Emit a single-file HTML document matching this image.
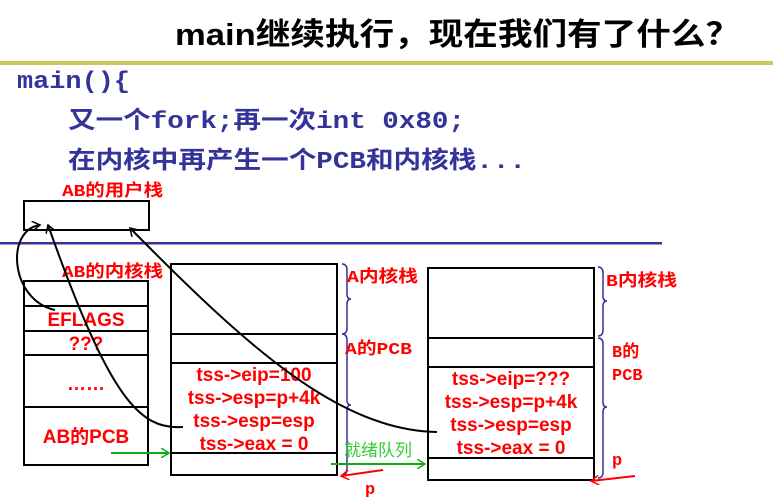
<!DOCTYPE html>
<html><head><meta charset="utf-8"><style>
body{margin:0;width:773px;height:497px;overflow:hidden;background:#fff}
svg{display:block}
.r{fill:#f00;font-family:"Liberation Sans","Noto Sans CJK SC",sans-serif;font-weight:bold;font-size:19px}
.m{fill:#f00;font-family:"Liberation Mono","Noto Sans CJK SC",monospace;font-weight:bold;font-size:17px}
.c{fill:#333399;font-family:"Liberation Mono","Noto Sans CJK SC",monospace;font-weight:bold;font-size:24px}
</style></head><body>
<svg width="773" height="497" viewBox="0 0 773 497" xmlns="http://www.w3.org/2000/svg">
<defs>
<marker id="ak" markerWidth="10" markerHeight="10" refX="8" refY="5" orient="auto" markerUnits="userSpaceOnUse"><path d="M0,0 L8,5 L0,10" fill="none" stroke="#000" stroke-width="1.5"/></marker>
<marker id="ag" markerWidth="10" markerHeight="10" refX="8" refY="5" orient="auto" markerUnits="userSpaceOnUse"><path d="M0,0 L8,5 L0,10" fill="none" stroke="#1a1" stroke-width="1.5"/></marker>
<marker id="ar" markerWidth="10" markerHeight="10" refX="8" refY="5" orient="auto" markerUnits="userSpaceOnUse"><path d="M0,0 L8,5 L0,10" fill="none" stroke="#f00" stroke-width="1.5"/></marker>
</defs>
<text x="175" y="45" textLength="565" lengthAdjust="spacingAndGlyphs" font-family="Liberation Sans,'Noto Sans CJK SC',sans-serif" font-weight="bold" font-size="31" fill="#000">main继续执行，现在我们有了什么？</text>
<rect x="0" y="61" width="773" height="4" fill="#c8c860"/>
<text class="c" x="17" y="88" textLength="113" lengthAdjust="spacingAndGlyphs">main(){</text>
<text class="c" x="68" y="128" textLength="397" lengthAdjust="spacingAndGlyphs">又一个fork;再一次int 0x80;</text>
<text class="c" x="68" y="168" textLength="458" lengthAdjust="spacingAndGlyphs">在内核中再产生一个PCB和内核栈...</text>
<text class="m" x="62" y="196" textLength="101" lengthAdjust="spacingAndGlyphs">AB的用户栈</text>
<rect x="24" y="201" width="125" height="29" fill="none" stroke="#000" stroke-width="2"/>
<rect x="0" y="242" width="662" height="2.5" fill="#333399"/>
<text class="m" x="62" y="277" textLength="101" lengthAdjust="spacingAndGlyphs">AB的内核栈</text>
<g fill="none" stroke="#000" stroke-width="2">
<rect x="24" y="281" width="124" height="184"/>
<line x1="24" y1="306" x2="148" y2="306"/><line x1="24" y1="331" x2="148" y2="331"/>
<line x1="24" y1="355" x2="148" y2="355"/><line x1="24" y1="407" x2="148" y2="407"/>
<rect x="171" y="264" width="166" height="211"/>
<line x1="171" y1="334" x2="337" y2="334"/><line x1="171" y1="363" x2="337" y2="363"/><line x1="171" y1="453" x2="337" y2="453"/>
<rect x="428" y="268" width="166" height="212"/>
<line x1="428" y1="338" x2="594" y2="338"/><line x1="428" y1="367" x2="595" y2="367"/><line x1="428" y1="458" x2="595" y2="458"/>
</g>
<text class="r" x="86" y="326" text-anchor="middle">EFLAGS</text>
<text class="r" x="86" y="350" text-anchor="middle">???</text>
<text class="r" x="86" y="390" text-anchor="middle">……</text>
<text class="r" x="86" y="443" text-anchor="middle">AB的PCB</text>
<g class="r" text-anchor="middle">
<text x="254" y="381">tss-&gt;eip=100</text><text x="254" y="404">tss-&gt;esp=p+4k</text>
<text x="254" y="427">tss-&gt;esp=esp</text><text x="254" y="450">tss-&gt;eax = 0</text>
<text x="511" y="385">tss-&gt;eip=???</text><text x="511" y="408">tss-&gt;esp=p+4k</text>
<text x="511" y="431">tss-&gt;esp=esp</text><text x="511" y="454">tss-&gt;eax = 0</text>
</g>
<g fill="none" stroke="#333399" stroke-width="1.5">
<path d="M342,264 Q347,264 347,270 L347,294 Q347,299 351,299 Q347,299 347,304 L347,328 Q347,334 342,334"/>
<path d="M342,334 Q347,334 347,340 L347,400 Q347,405 351,405 Q347,405 347,410 L347,469 Q347,475 342,475"/>
<path d="M598,267 Q603,267 603,273 L603,296 Q603,301 607,301 Q603,301 603,306 L603,330 Q603,336 598,336"/>
<path d="M598,338 Q603,338 603,344 L603,402 Q603,407 607,407 Q603,407 603,412 L603,472 Q603,478 598,478"/>
</g>
<text class="m" x="347" y="282" textLength="71" lengthAdjust="spacingAndGlyphs">A内核栈</text>
<text class="m" x="345" y="354" textLength="67" lengthAdjust="spacingAndGlyphs">A的PCB</text>
<text class="m" x="606" y="286" textLength="71" lengthAdjust="spacingAndGlyphs">B内核栈</text>
<text class="m" x="612" y="357">B的</text>
<text class="m" x="612" y="380">PCB</text>
<text class="m" x="612" y="465">p</text>
<text class="m" x="365" y="494">p</text>
<text x="344" y="456" font-family="'Noto Sans CJK SC',sans-serif" font-size="17" fill="#3c3">就绪队列</text>
<line x1="111" y1="453" x2="169" y2="453" stroke="#1a1" stroke-width="2" marker-end="url(#ag)"/>
<line x1="331" y1="464" x2="425" y2="464" stroke="#1a1" stroke-width="2" marker-end="url(#ag)"/>
<line x1="383" y1="470" x2="341" y2="476" stroke="#f00" stroke-width="2" marker-end="url(#ar)"/>
<line x1="635" y1="476" x2="591" y2="481" stroke="#f00" stroke-width="2" marker-end="url(#ar)"/>
<g fill="none" stroke="#000" stroke-width="2">
<path d="M55,310 C10,300 5,230 40,225" marker-end="url(#ak)"/>
<path d="M183,427 C140,430 110,400 48,225" marker-end="url(#ak)"/>
<path d="M437,432 C340,430 250,350 130,228" marker-end="url(#ak)"/>
</g>
</svg>
</body></html>
